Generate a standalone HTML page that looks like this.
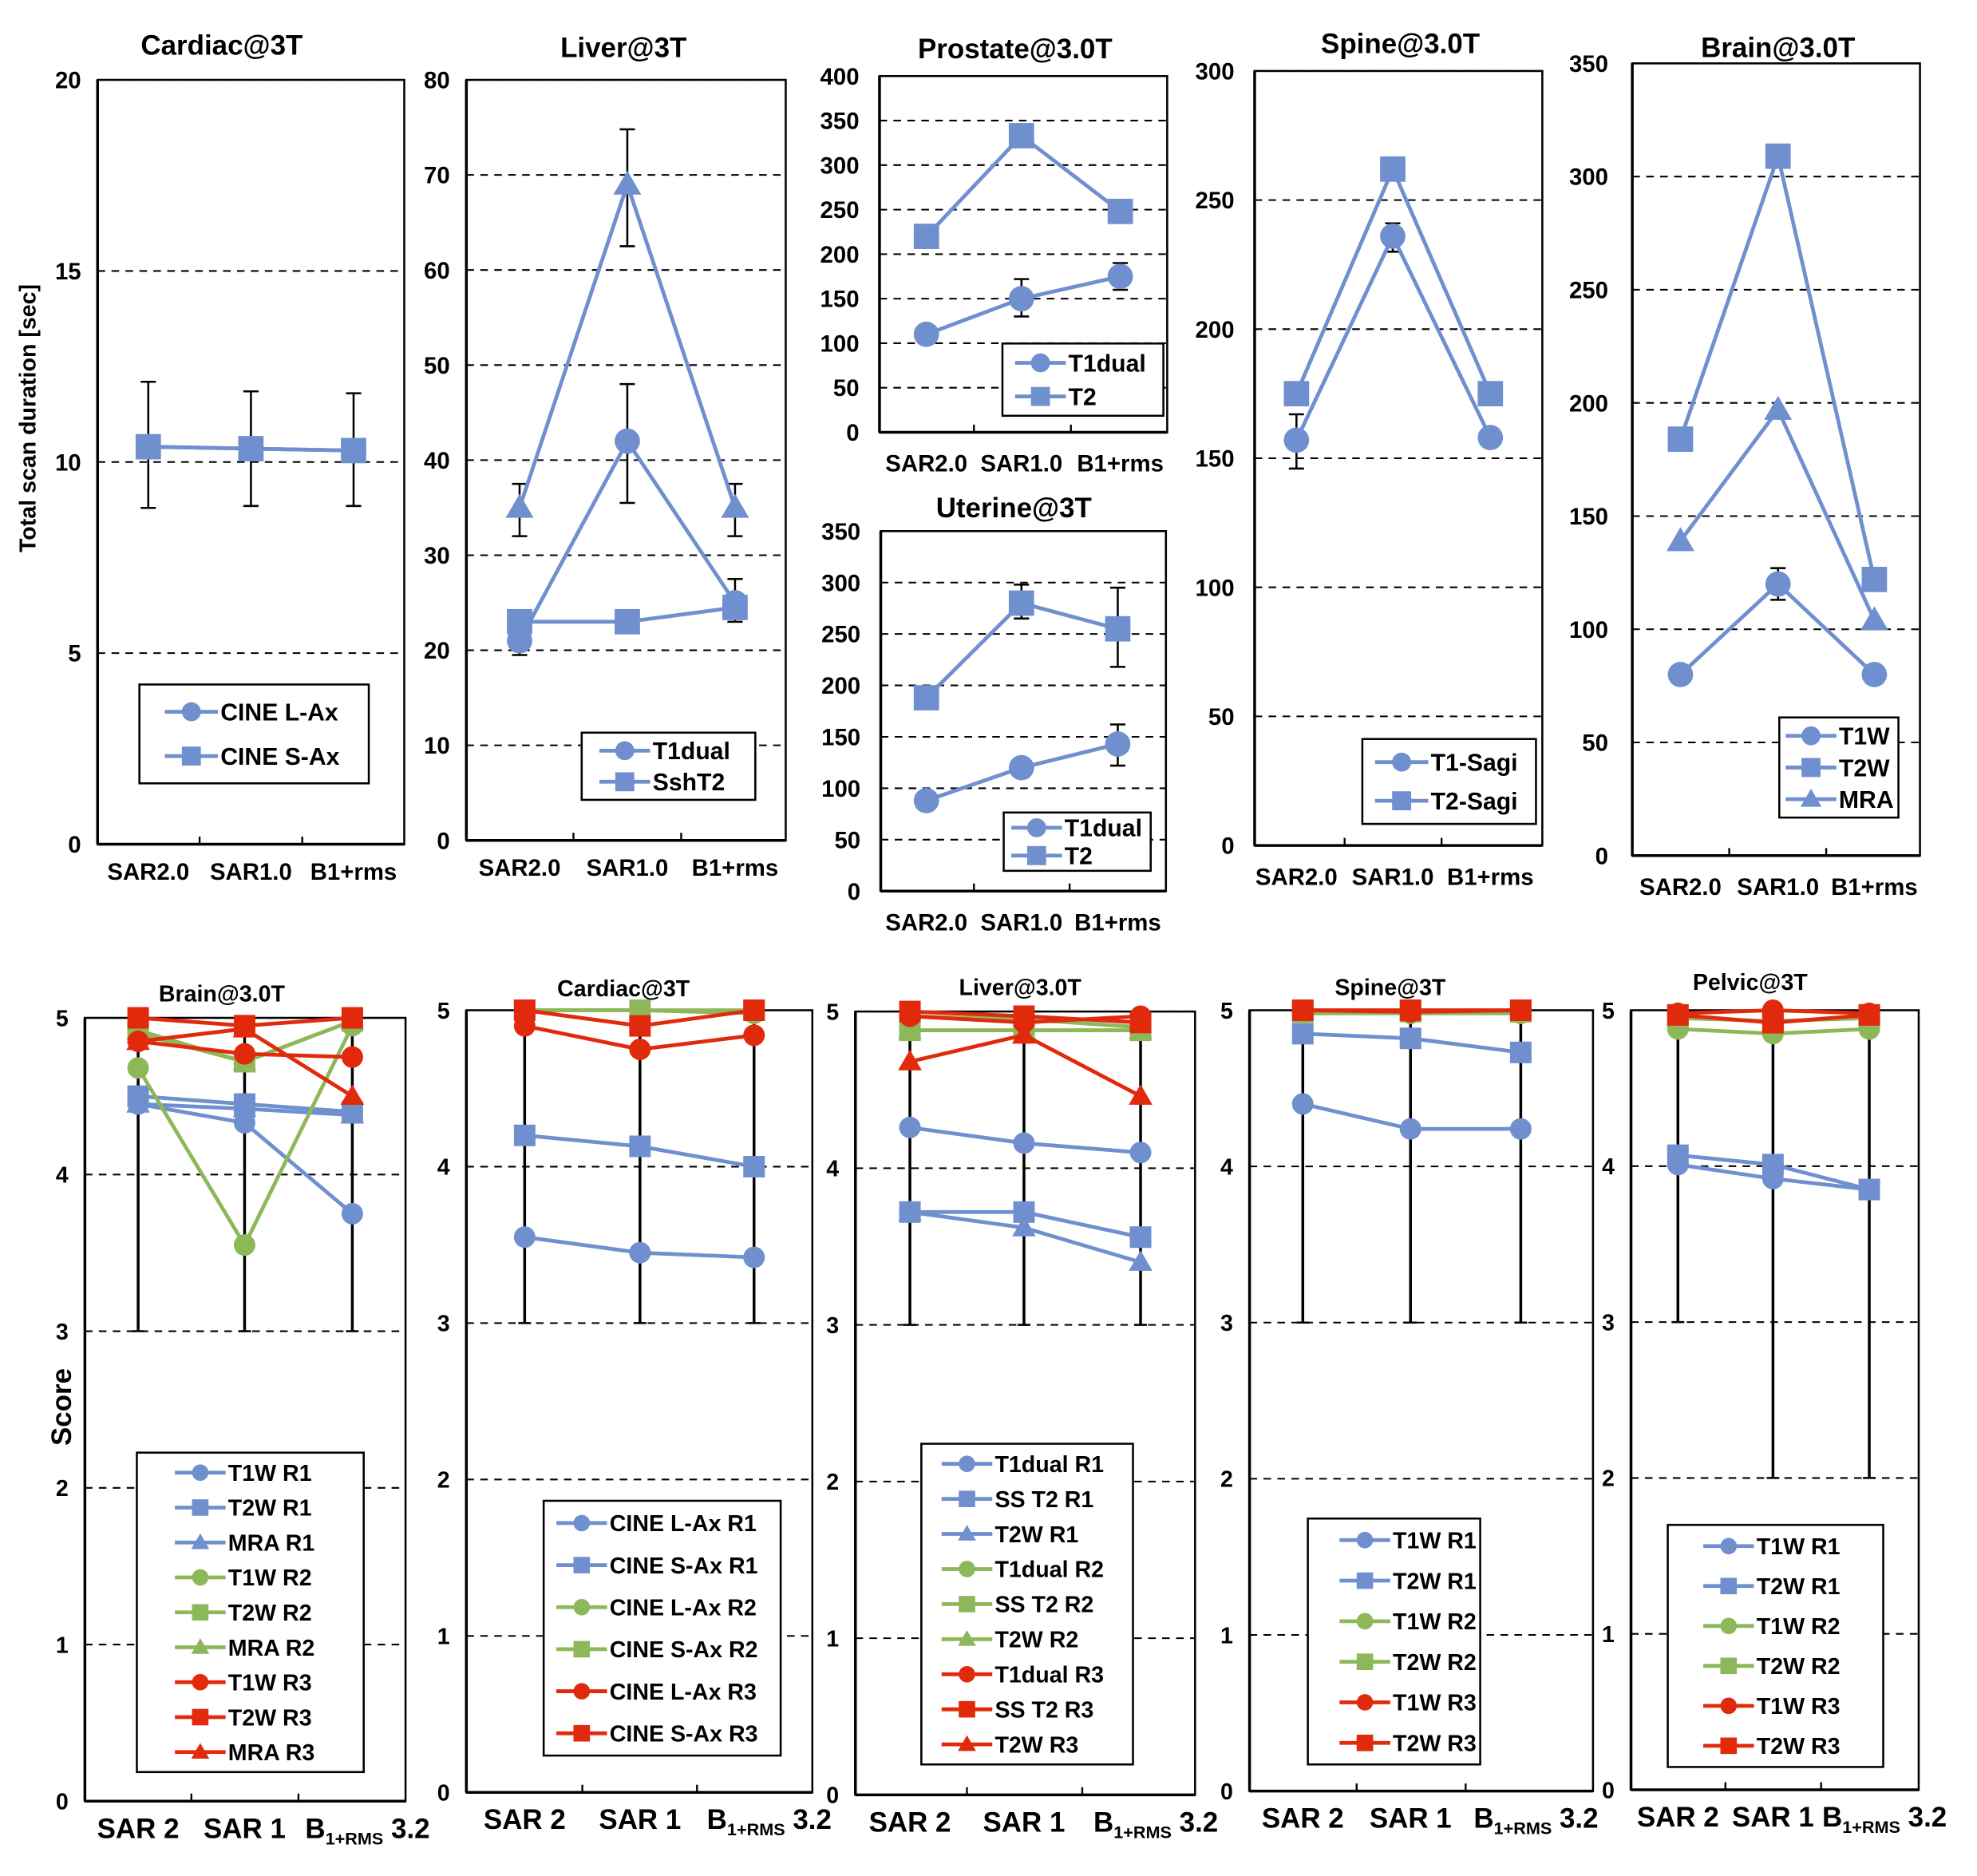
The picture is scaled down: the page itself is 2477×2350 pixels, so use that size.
<!DOCTYPE html>
<html><head><meta charset="utf-8"><style>
html,body{margin:0;padding:0;background:#fff;}
svg{display:block;font-family:"Liberation Sans",Arial,sans-serif;font-weight:bold;}
</style></head><body>
<svg id="fig" width="2477" height="2350" viewBox="0 0 1560 1480" xmlns="http://www.w3.org/2000/svg"></svg>
<script>
// ===== Data =====
const topCats = ["SAR2.0","SAR1.0","B1+rms"];
const botCats = ["SAR 2","SAR 1","B1+RMS 3.2"];

const cardiacTicks = [0,5,10,15,20];
const cardiacLAx = [10.4,10.35,10.3];
const cardiacSAx = [10.4,10.35,10.3];
const cardiacErrLo = [8.8,8.85,8.85];
const cardiacErrHi = [12.1,11.85,11.8];

const liverTicks = [0,10,20,30,40,50,60,70,80];
const liverT1dual = [21,42,25];
const liverT1dualLo = [19.5,35.5,23];
const liverT1dualHi = [22,48,27.5];
const liverTri = [35,69,35];
const liverTriLo = [32,62.5,32];
const liverTriHi = [37.5,74.8,37.5];
const liverSshT2 = [23,23,24.5];

const prostateTicks = [0,50,100,150,200,250,300,350,400];
const prostateT1dual = [110,150,175];
const prostateT1Lo = [110,130,160];
const prostateT1Hi = [110,172,190];
const prostateT2 = [220,333,248];
const prostateT2Lo = [220,325,248];
const prostateT2Hi = [220,345,248];

const uterineTicks = [0,50,100,150,200,250,300,350];
const uterineT1dual = [88,120,143];
const uterineT1Lo = [88,120,122];
const uterineT1Hi = [88,120,162];
const uterineT2 = [188,280,255];
const uterineT2Lo = [180,265,218];
const uterineT2Hi = [188,298,295];

const spineTicks = [0,50,100,150,200,250,300];
const spineT1 = [157,236,158];
const spineT1Lo = [146,230,158];
const spineT1Hi = [167,241,158];
const spineT2 = [175,262,175];

const brainTicks = [0,50,100,150,200,250,300,350];
const brainT1W = [80,120,80];
const brainT1WLo = [80,113,80];
const brainT1WHi = [80,127,80];
const brainT2W = [184,309,122];
const brainMRA = [139,197,104];

const scoreTicks = [0,1,2,3,4,5];

const bBrainT1R1 = [4.45,4.33,3.75];
const bBrainT2R1 = [4.5,4.45,4.4];
const bBrainMRAR1 = [4.45,4.42,4.38];
const bBrainT1R2 = [4.68,3.55,4.95];
const bBrainT2R2 = [4.9,4.72,4.98];
const bBrainMRAR2 = [4.92,4.72,4.98];
const bBrainT1R3 = [4.85,4.77,4.75];
const bBrainT2R3 = [5,4.95,5];
const bBrainMRAR3 = [4.85,4.93,4.5];
const bBrainErrLo = [3,3,3];

const bCardLR1 = [3.55,3.45,3.42];
const bCardSR1 = [4.2,4.13,4.0];
const bCardLR2 = [5,5,4.98];
const bCardSR2 = [5,5,5];
const bCardLR3 = [4.9,4.75,4.84];
const bCardSR3 = [5,4.9,5];
const bCardErrLo = [3,3,3];

const bLivT1R1 = [4.26,4.16,4.1];
const bLivSSR1 = [3.72,3.72,3.56];
const bLivT2R1 = [3.72,3.62,3.4];
const bLivT1R2 = [4.97,4.95,4.9];
const bLivSSR2 = [4.88,4.88,4.88];
const bLivT2R2 = [4.88,4.88,4.88];
const bLivT1R3 = [4.97,4.93,4.97];
const bLivSSR3 = [5,4.97,4.93];
const bLivT2R3 = [4.68,4.85,4.46];
const bLivErrLo = [3,3,3];

const bSpT1R1 = [4.4,4.24,4.24];
const bSpT2R1 = [4.85,4.82,4.73];
const bSpT1R2 = [4.98,4.98,4.98];
const bSpT2R2 = [4.99,4.99,4.99];
const bSpT1R3 = [5,4.99,5];
const bSpT2R3 = [5,5,5];
const bSpErrLo = [3,3,3];

const bPelT1R1 = [4.01,3.92,3.85];
const bPelT2R1 = [4.07,4.01,3.85];
const bPelT1R2 = [4.88,4.85,4.88];
const bPelT2R2 = [4.95,4.93,4.95];
const bPelT1R3 = [4.98,5,4.98];
const bPelT2R3 = [4.97,4.92,4.97];
const bPelErrLo = [3,2,2];

// ===== Drawing =====
const NS = "http://www.w3.org/2000/svg";
const svg = document.getElementById('fig');
const BLUE="#6f8fcf", GREEN="#8db85a", RED="#e1290c";
function mk(tag, attrs, parent){
  const e=document.createElementNS(NS,tag);
  for(const k in attrs) e.setAttribute(k,attrs[k]);
  (parent||svg).appendChild(e); return e;
}
function marker(g, shape, x, y, s, color){
  let m;
  if(shape==='c') m=mk('circle',{cx:x,cy:y,r:s,fill:color},g);
  else if(shape==='s') m=mk('rect',{x:x-s,y:y-s,width:2*s,height:2*s,fill:color},g);
  else m=mk('polygon',{points:`${x},${y-s*1.1} ${x+s*1.1},${y+s*0.8} ${x-s*1.1},${y+s*0.8}`,fill:color},g);
  return m;
}
function panel(p){
  const g=mk('g',{});
  
  
  const ymin=p.ticks[0], ymax=p.ticks[p.ticks.length-1];
  const Y=v=>p.y1-(v-ymin)/(ymax-ymin)*(p.y1-p.y0);
  const X=i=>p.cx[i];
  p.ticks.forEach((t,i)=>{
    if(i>0){const l=mk('line',{x1:p.x0,x2:p.x1,y1:Y(t),y2:Y(t),stroke:'#000','stroke-width':1.3,'stroke-dasharray':'6,5'},g);
       }
    const tx=mk('text',{x:p.x0-p.tickGap,y:Y(t)+p.tfs*0.36,'text-anchor':'end','font-size':p.tfs},g);
     
    tx.textContent=t;
  });
  const b=mk('rect',{x:p.x0,y:p.y0,width:p.x1-p.x0,height:p.y1-p.y0,fill:'none',stroke:'#000','stroke-width':1.6},g);
   
  mk('line',{x1:p.x0,x2:p.x0,y1:p.y0,y2:p.y1,stroke:'#000','stroke-width':2.2},g);
  mk('line',{x1:p.x0,x2:p.x1,y1:p.y1,y2:p.y1,stroke:'#000','stroke-width':2.2},g);
  for(let i=0;i<2;i++){const mx=(p.cx[i]+p.cx[i+1])/2;
    mk('line',{x1:mx,x2:mx,y1:p.y1,y2:p.y1-6,stroke:'#000','stroke-width':1.5},g);}
  p.cats.forEach((c,i)=>{
    const tx=mk('text',{x:X(i),y:p.y1+p.catDy,'text-anchor':'middle','font-size':p.cfs},g);
     
    if(c.startsWith('B1+RMS')){
      const a=mk('tspan',{},tx); a.textContent='B';
      const s=mk('tspan',{'font-size':p.cfs*0.62,dy:5},tx); s.textContent='1+RMS';
      const r=mk('tspan',{dy:-5},tx); r.textContent=' 3.2';
      tx.setAttribute('x',X(i)+12);
    } else tx.textContent=c;
  });
  const tt=mk('text',{x:p.tx,y:p.ty,'text-anchor':'middle','font-size':p.tifs},g);
   
  tt.textContent=p.title;
  (p.errs||[]).forEach(e=>{
    e.lo.forEach((lo,i)=>{
      const hi=e.hi[i]; if(hi-lo<=0.001) return;
      const l=mk('line',{x1:X(i),x2:X(i),y1:Y(lo),y2:Y(hi),stroke:'#000','stroke-width':e.w||1.6},g);
       
      [lo,hi].forEach(v=>mk('line',{x1:X(i)-e.cap,x2:X(i)+e.cap,y1:Y(v),y2:Y(v),stroke:'#000','stroke-width':1.6},g));
    });
  });
  p.series.forEach(s=>{
    const sg=mk('g',{},g);
    
    
    const pl=mk('polyline',{points:s.v.map((v,i)=>X(i)+','+Y(v)).join(' '),fill:'none',stroke:s.color,'stroke-width':p.lw},sg);
     
    s.v.forEach((v,i)=>{
      const m=marker(sg,s.shape,X(i),Y(v),p.ms,s.color);
       
    });
  });
  if(p.leg){
    const L=p.leg;
    const lg=mk('g',{},g);
     
    mk('rect',{x:L.x,y:L.y,width:L.w,height:L.h,fill:'#fff',stroke:'#000','stroke-width':1.6},lg);
    const ls=p.series.filter(s=>!s.noLegend);
    const step=(L.h-2*L.pad)/ls.length;
    ls.forEach((s,i)=>{
      const cy=L.y+L.pad+step*(i+0.5);
      const eg=mk('g',{},lg);
       
      mk('line',{x1:L.x+L.lx,x2:L.x+L.lx+L.ll,y1:cy,y2:cy,stroke:s.color,'stroke-width':p.lw},eg);
      marker(eg,s.shape,L.x+L.lx+L.ll/2,cy,L.ms,s.color);
      const t=mk('text',{x:L.x+L.lx+L.ll+2,y:cy+L.fs*0.36,'font-size':L.fs},eg);
      t.textContent=s.label;
    });
  }
}
const topCommon={tfs:18.5,cfs:18.5,tifs:22,lw:3,ms:10,tickGap:13,catDy:28};
const botCommon={tfs:18,cfs:22,tifs:18,lw:3,ms:8.5,tickGap:13,catDy:29,cats:botCats};

panel(Object.assign({},topCommon,{name:'cardiac-duration-chart',title:'Cardiac@3T',tx:175,ty:43,
  x0:77,x1:319,y0:63,y1:666,cx:[117,198,279],ticks:cardiacTicks,cats:topCats,
  errs:[{lo:cardiacErrLo,hi:cardiacErrHi,cap:6}],
  series:[{label:'CINE L-Ax',shape:'c',color:BLUE,v:cardiacLAx},{label:'CINE S-Ax',shape:'s',color:BLUE,v:cardiacSAx}],
  leg:{x:110,y:540,w:181,h:78,pad:4,lx:20,ll:42,ms:7.5,fs:19}}));

panel(Object.assign({},topCommon,{name:'liver-duration-chart',title:'Liver@3T',tx:492,ty:45,
  x0:368,x1:620,y0:63,y1:663,cx:[410,495,580],ticks:liverTicks,cats:topCats,
  errs:[{lo:liverT1dualLo,hi:liverT1dualHi,cap:6},{lo:liverTriLo,hi:liverTriHi,cap:6}],
  series:[{label:'Tri',shape:'t',color:BLUE,v:liverTri,noLegend:true},{label:'T1dual',shape:'c',color:BLUE,v:liverT1dual},{label:'SshT2',shape:'s',color:BLUE,v:liverSshT2}],
  leg:{x:459,y:578,w:137,h:53,pad:2,lx:14,ll:40,ms:7.5,fs:19}}));

panel(Object.assign({},topCommon,{name:'prostate-duration-chart',title:'Prostate@3.0T',tx:801,ty:46,
  x0:694,x1:921,y0:60,y1:341,cx:[731,806,884],ticks:prostateTicks,cats:topCats,catDy:31,tickGap:16,
  errs:[{lo:prostateT1Lo,hi:prostateT1Hi,cap:6},{lo:prostateT2Lo,hi:prostateT2Hi,cap:6}],
  series:[{label:'T1dual',shape:'c',color:BLUE,v:prostateT1dual},{label:'T2',shape:'s',color:BLUE,v:prostateT2}],
  leg:{x:791,y:271,w:127,h:57,pad:2,lx:10,ll:40,ms:7.5,fs:19}}));

panel(Object.assign({},topCommon,{name:'uterine-duration-chart',title:'Uterine@3T',tx:800,ty:408,
  x0:695,x1:920,y0:419,y1:703,cx:[731,806,882],ticks:uterineTicks,cats:topCats,catDy:31,tickGap:16,
  errs:[{lo:uterineT1Lo,hi:uterineT1Hi,cap:6},{lo:uterineT2Lo,hi:uterineT2Hi,cap:6}],
  series:[{label:'T1dual',shape:'c',color:BLUE,v:uterineT1dual},{label:'T2',shape:'s',color:BLUE,v:uterineT2}],
  leg:{x:792,y:641,w:116,h:46,pad:1,lx:6,ll:40,ms:7.5,fs:19}}));

panel(Object.assign({},topCommon,{name:'spine-duration-chart',title:'Spine@3.0T',tx:1105,ty:42,
  x0:990,x1:1217,y0:56,y1:667,cx:[1023,1099,1176],ticks:spineTicks,cats:topCats,catDy:31,tickGap:16,
  errs:[{lo:spineT1Lo,hi:spineT1Hi,cap:6}],
  series:[{label:'T1-Sagi',shape:'c',color:BLUE,v:spineT1},{label:'T2-Sagi',shape:'s',color:BLUE,v:spineT2}],
  leg:{x:1075,y:583,w:137,h:67,pad:3,lx:10,ll:42,ms:7.5,fs:19}}));

panel(Object.assign({},topCommon,{name:'brain-duration-chart',title:'Brain@3.0T',tx:1403,ty:45,
  x0:1288,x1:1515,y0:50,y1:675,cx:[1326,1403,1479],ticks:brainTicks,cats:topCats,catDy:31,tickGap:19,
  errs:[{lo:brainT1WLo,hi:brainT1WHi,cap:6}],
  series:[{label:'T1W',shape:'c',color:BLUE,v:brainT1W},{label:'T2W',shape:'s',color:BLUE,v:brainT2W},{label:'MRA',shape:'t',color:BLUE,v:brainMRA}],
  leg:{x:1404,y:566,w:94,h:79,pad:2,lx:5,ll:40,ms:7.5,fs:19}}));

const ones=[5,5,5];
panel(Object.assign({},botCommon,{name:'brain-score-chart',title:'Brain@3.0T',tx:175,ty:790,
  x0:67,x1:320,y0:803,y1:1421,cx:[109,193,278],ticks:scoreTicks,
  errs:[{lo:bBrainErrLo,hi:ones,cap:5,w:2.2}],
  series:[{label:'T1W R1',shape:'c',color:BLUE,v:bBrainT1R1},{label:'T2W R1',shape:'s',color:BLUE,v:bBrainT2R1},{label:'MRA R1',shape:'t',color:BLUE,v:bBrainMRAR1},
    {label:'T1W R2',shape:'c',color:GREEN,v:bBrainT1R2},{label:'T2W R2',shape:'s',color:GREEN,v:bBrainT2R2},{label:'MRA R2',shape:'t',color:GREEN,v:bBrainMRAR2},
    {label:'T1W R3',shape:'c',color:RED,v:bBrainT1R3},{label:'T2W R3',shape:'s',color:RED,v:bBrainT2R3},{label:'MRA R3',shape:'t',color:RED,v:bBrainMRAR3}],
  leg:{x:108,y:1146,w:179,h:252,pad:2,lx:30,ll:40,ms:6.5,fs:18}}));

panel(Object.assign({},botCommon,{name:'cardiac-score-chart',title:'Cardiac@3T',tx:492,ty:786,
  x0:368,x1:641,y0:797,y1:1414,cx:[414,505,595],ticks:scoreTicks,
  errs:[{lo:bCardErrLo,hi:ones,cap:5,w:2.2}],
  series:[{label:'CINE L-Ax R1',shape:'c',color:BLUE,v:bCardLR1},{label:'CINE S-Ax R1',shape:'s',color:BLUE,v:bCardSR1},
    {label:'CINE L-Ax R2',shape:'c',color:GREEN,v:bCardLR2},{label:'CINE S-Ax R2',shape:'s',color:GREEN,v:bCardSR2},
    {label:'CINE L-Ax R3',shape:'c',color:RED,v:bCardLR3},{label:'CINE S-Ax R3',shape:'s',color:RED,v:bCardSR3}],
  leg:{x:429,y:1184,w:187,h:201,pad:1,lx:10,ll:40,ms:6.5,fs:18}}));

panel(Object.assign({},botCommon,{name:'liver-score-chart',title:'Liver@3.0T',tx:805,ty:785,
  x0:675,x1:943,y0:798,y1:1416,cx:[718,808,900],ticks:scoreTicks,
  errs:[{lo:bLivErrLo,hi:ones,cap:5,w:2.2}],
  series:[{label:'T1dual R1',shape:'c',color:BLUE,v:bLivT1R1},{label:'SS T2 R1',shape:'s',color:BLUE,v:bLivSSR1},{label:'T2W R1',shape:'t',color:BLUE,v:bLivT2R1},
    {label:'T1dual R2',shape:'c',color:GREEN,v:bLivT1R2},{label:'SS T2 R2',shape:'s',color:GREEN,v:bLivSSR2},{label:'T2W R2',shape:'t',color:GREEN,v:bLivT2R2},
    {label:'T1dual R3',shape:'c',color:RED,v:bLivT1R3},{label:'SS T2 R3',shape:'s',color:RED,v:bLivSSR3},{label:'T2W R3',shape:'t',color:RED,v:bLivT2R3}],
  leg:{x:727,y:1139,w:167,h:253,pad:2,lx:16,ll:40,ms:6.5,fs:18}}));

panel(Object.assign({},botCommon,{name:'spine-score-chart',title:'Spine@3T',tx:1097,ty:785,
  x0:986,x1:1257,y0:797,y1:1413,cx:[1028,1113,1200],ticks:scoreTicks,
  errs:[{lo:bSpErrLo,hi:ones,cap:5,w:2.2}],
  series:[{label:'T1W R1',shape:'c',color:BLUE,v:bSpT1R1},{label:'T2W R1',shape:'s',color:BLUE,v:bSpT2R1},
    {label:'T1W R2',shape:'c',color:GREEN,v:bSpT1R2},{label:'T2W R2',shape:'s',color:GREEN,v:bSpT2R2},
    {label:'T1W R3',shape:'c',color:RED,v:bSpT1R3},{label:'T2W R3',shape:'s',color:RED,v:bSpT2R3}],
  leg:{x:1032,y:1198,w:136,h:194,pad:1,lx:25,ll:40,ms:6.5,fs:18}}));

panel(Object.assign({},botCommon,{name:'pelvic-score-chart',title:'Pelvic@3T',tx:1381,ty:781,
  x0:1287,x1:1514,y0:797,y1:1412,cx:[1324,1399,1475],ticks:scoreTicks,
  errs:[{lo:bPelErrLo,hi:ones,cap:5,w:2.2}],
  series:[{label:'T1W R1',shape:'c',color:BLUE,v:bPelT1R1},{label:'T2W R1',shape:'s',color:BLUE,v:bPelT2R1},
    {label:'T1W R2',shape:'c',color:GREEN,v:bPelT1R2},{label:'T2W R2',shape:'s',color:GREEN,v:bPelT2R2},
    {label:'T1W R3',shape:'c',color:RED,v:bPelT1R3},{label:'T2W R3',shape:'s',color:RED,v:bPelT2R3}],
  leg:{x:1316,y:1203,w:170,h:191,pad:1,lx:28,ll:40,ms:6.5,fs:18}}));

const yt1=mk('text',{x:0,y:0,'text-anchor':'middle','font-size':18,transform:'translate(28,330) rotate(-90)'});
 
yt1.textContent='Total scan duration [sec]';
const yt2=mk('text',{x:0,y:0,'text-anchor':'middle','font-size':22,transform:'translate(56,1110) rotate(-90)'});
 
yt2.textContent='Score';
</script>
</body></html>
